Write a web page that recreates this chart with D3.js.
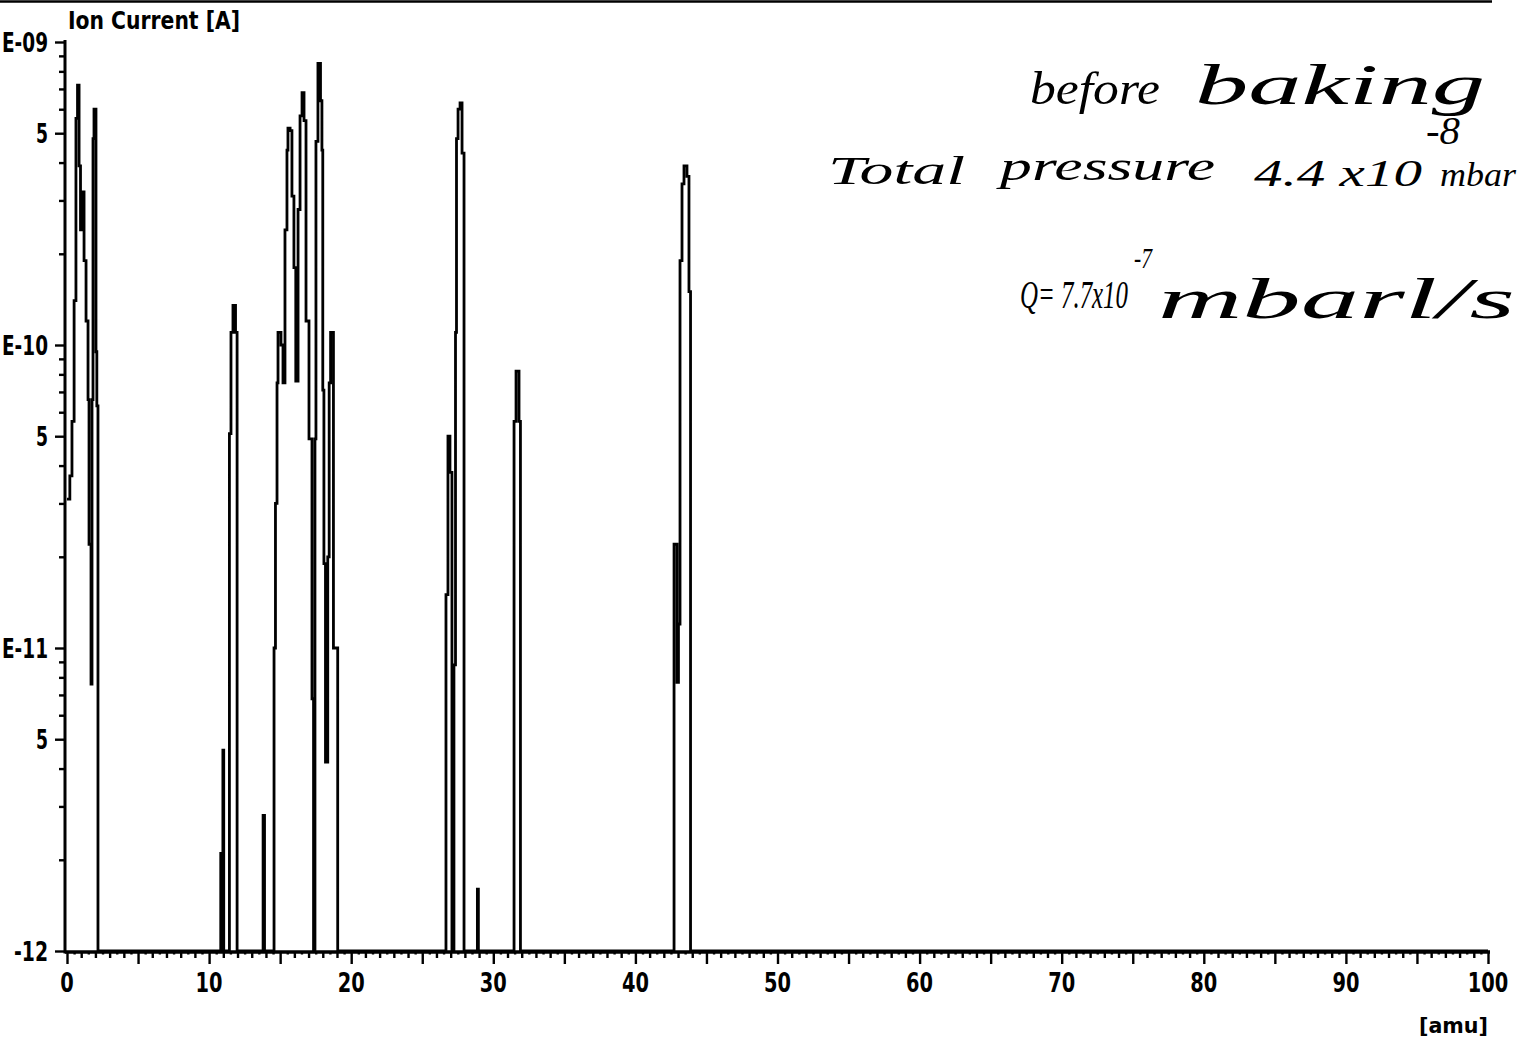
<!DOCTYPE html>
<html>
<head>
<meta charset="utf-8">
<script src="https://cdn.jsdelivr.net/npm/d3@7"></script>
<style>
  html, body { margin: 0; padding: 0; background: #fff; }
  svg { display: block; }
</style>
</head>
<body>
<script>
// mass scan: [amu, ion current A], 1e-12 = floor of the scale
const traceMass = [
  0, 0.2, 0.35, 0.5, 0.63, 0.74, 0.85, 0.95, 1.06, 1.2, 1.34, 1.48, 1.55, 1.69, 1.76, 1.83, 1.9, 2.04, 2.1, 2.18,
  10.82, 10.88, 10.97, 11.03,
  11.43, 11.54, 11.68, 11.86, 11.97,
  13.8, 13.9,
  14.57, 14.67, 14.78, 14.85, 15.06, 15.2, 15.34, 15.48, 15.55, 15.7, 15.83, 15.97, 16.1, 16.26, 16.4, 16.54, 16.68,
  16.82, 17.03, 17.24, 17.35, 17.45, 17.52, 17.66, 17.84, 17.94, 18.0, 18.08, 18.19, 18.35, 18.45, 18.55, 18.75, 19.05,
  26.67, 26.81, 26.95, 27.09, 27.23, 27.34, 27.41, 27.52, 27.66, 27.8, 27.94,
  28.88, 28.95,
  31.46, 31.6, 31.81, 31.91,
  42.72, 42.93, 43.03, 43.14, 43.28, 43.42, 43.63, 43.77, 43.88,
  100
];
const traceCurrent = [
  3.1e-11, 3.7e-11, 5.6e-11, 1.4e-10, 5.6e-10, 7.2e-10, 3.9e-10, 2.4e-10, 3.2e-10, 1.9e-10, 1.2e-10, 6.6e-11, 2.2e-11, 7.6e-12, 6.6e-11, 4.8e-10, 6.0e-10, 9.5e-11, 6.3e-11, 1e-12,
  2.1e-12, 1e-12, 4.6e-12, 1e-12,
  5.1e-11, 1.1e-10, 1.35e-10, 1.1e-10, 1e-12,
  2.8e-12, 1e-12,
  1e-11, 3.0e-11, 7.5e-11, 1.1e-10, 1e-10, 7.5e-11, 2.4e-10, 4.4e-10, 5.2e-10, 5.1e-10, 3.1e-10, 1.8e-10, 7.6e-11, 2.8e-10, 5.7e-10, 6.8e-10, 5.5e-10,
  1.2e-10, 4.9e-11, 6.8e-12, 1e-12, 4.9e-11, 4.7e-10, 8.5e-10, 6.4e-10, 4.4e-10, 7.1e-11, 1.9e-11, 4.2e-12, 2.0e-11, 7.5e-11, 1.1e-10, 1.0e-11, 1e-12,
  1.5e-11, 5.0e-11, 3.8e-11, 1e-12, 8.8e-12, 1.1e-10, 4.8e-10, 6e-10, 6.3e-10, 4.3e-10, 1e-12,
  1.6e-12, 1e-12,
  5.6e-11, 8.2e-11, 5.6e-11, 1e-12,
  2.2e-11, 7.7e-12, 1.2e-11, 1.9e-10, 3.4e-10, 3.9e-10, 3.6e-10, 1.5e-10, 1e-12,
  1e-12
];

const xTickValues = [0, 10, 20, 30, 40, 50, 60, 70, 80, 90, 100];
const yDecades = [1e-12, 1e-11, 1e-10, 1e-9];
const yDecadeLabels = ["-12", "E-11", "E-10", "E-09"];

// handwritten notes on the print
const notes = [
  {t: "before", x: 1030, y: 104, size: 46, w: 130},
  {t: "baking", x: 1195, y: 104, size: 56, w: 290},
  {t: "Total", x: 828, y: 184, size: 40, w: 137},
  {t: "pressure", x: 1000, y: 180, size: 42, w: 215},
  {t: "4.4 x10", x: 1254, y: 186, size: 38, w: 168},
  {t: "-8", x: 1426, y: 144, size: 40, w: 34},
  {t: "mbar", x: 1440, y: 186, size: 34, w: 76},
  {t: "Q= 7.7x10", x: 1020, y: 308, size: 40, w: 108},
  {t: "-7", x: 1134, y: 268, size: 30, w: 18},
  {t: "mbarl/s", x: 1158, y: 318, size: 58, w: 357}
];

const width = 1526, height = 1040;
const plotLeft = 65, plotRight = 1488, plotTop = 42, plotBottom = 952;

const svg = d3.select("body").append("svg")
  .attr("width", width)
  .attr("height", height)
  .attr("viewBox", [0, 0, width, height]);

const x = d3.scaleLinear().domain([0, 100]).range([plotLeft + 2, plotRight]);
const y = d3.scaleLog().domain([1e-12, 1e-9]).range([plotBottom - 1, plotTop]).clamp(true);

const axisFont = "'DejaVu Sans', sans-serif";

// narrow bold labels like the instrument printout
function label(g, px, py, str, size, w, anchor) {
  return g.append("text")
    .attr("x", px).attr("y", py)
    .attr("text-anchor", anchor || "start")
    .attr("font-family", axisFont)
    .attr("font-weight", "bold")
    .attr("font-size", size)
    .attr("textLength", w)
    .attr("lengthAdjust", "spacingAndGlyphs")
    .text(str);
}

// top edge of the scanned sheet
svg.append("line")
  .attr("x1", 0).attr("x2", 1492)
  .attr("y1", 1.5).attr("y2", 1.5)
  .attr("stroke", "#000").attr("stroke-width", 2.5);

// spectrum trace
const line = d3.line()
  .x(d => x(d[0]))
  .y(d => y(d[1]))
  .curve(d3.curveStepAfter);

svg.append("path")
  .attr("d", line(d3.zip(traceMass, traceCurrent)))
  .attr("fill", "none")
  .attr("stroke", "#000")
  .attr("stroke-width", 2.8)
  .attr("stroke-linejoin", "miter");

// y axis (log)
const yAxis = d3.axisLeft(y)
  .tickValues(d3.range(-12, -9).flatMap(e => d3.range(1, 10).map(k => k * Math.pow(10, e))).concat([1e-9]))
  .tickSize(0)
  .tickFormat("");

const gy = svg.append("g").attr("transform", `translate(${plotLeft},0)`).call(yAxis);
gy.select(".domain").remove();
gy.append("line")
  .attr("x1", 0).attr("x2", 0)
  .attr("y1", plotTop - 2).attr("y2", plotBottom + 1.5)
  .attr("stroke", "#000").attr("stroke-width", 3);

gy.selectAll(".tick line")
  .attr("x2", d => {
    const m = Math.round(d / Math.pow(10, Math.floor(Math.log10(d) + 1e-9)));
    return (m === 1 || m === 5) ? -10 : -6;
  })
  .attr("stroke", "#000")
  .attr("stroke-width", 2.4);

yDecades.forEach((v, i) => {
  const s = yDecadeLabels[i];
  label(svg, 48, y(v) + 9.5, s, 26, s.length === 4 ? 46 : 34, "end");
});
d3.range(-12, -9).forEach(e => {
  label(svg, 48, y(5 * Math.pow(10, e)) + 9.5, "5", 26, 12, "end");
});

label(svg, 68, 29, "Ion Current [A]", 25, 172);

// x axis
const xAxis = d3.axisBottom(x)
  .tickValues(d3.range(0, 100.001, 0.5))
  .tickSize(0)
  .tickFormat("");

const gx = svg.append("g").attr("transform", `translate(0,${plotBottom})`).call(xAxis);
gx.select(".domain").remove();
gx.append("line")
  .attr("x1", plotLeft).attr("x2", plotRight + 2)
  .attr("y1", 0).attr("y2", 0)
  .attr("stroke", "#000").attr("stroke-width", 3.4);
gx.selectAll(".tick line")
  .attr("y2", d => d % 5 === 0 ? 12 : (d % 1 === 0 ? 6 : 2.5))
  .attr("stroke", "#000")
  .attr("stroke-width", 2.4);

xTickValues.forEach(d => {
  const s = String(d);
  label(svg, x(d), 992, s, 26, s.length * 13.5, "middle");
});

label(svg, 1488, 1033, "[amu]", 22, 69, "end");

// handwritten notes
svg.append("g").selectAll("text")
  .data(notes)
  .join("text")
  .attr("x", d => d.x).attr("y", d => d.y)
  .attr("font-family", "'Liberation Serif', serif")
  .attr("font-style", "italic")
  .attr("font-size", d => d.size)
  .attr("textLength", d => d.w)
  .attr("lengthAdjust", "spacingAndGlyphs")
  .attr("fill", "#000")
  .text(d => d.t);
</script>
</body>
</html>
